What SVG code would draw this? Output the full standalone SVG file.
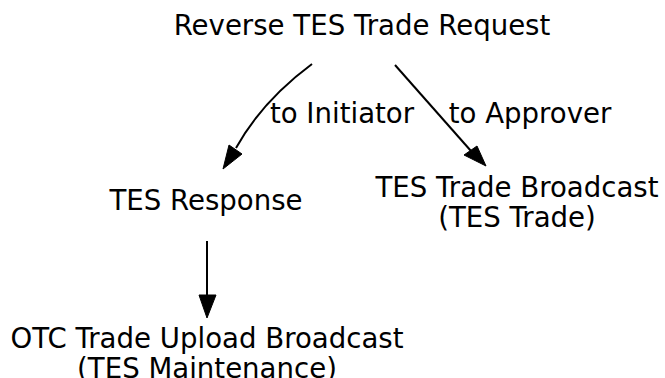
<svg xmlns="http://www.w3.org/2000/svg" width="665" height="378" viewBox="0 0 665 378">
<style>
text{font-family:"DejaVu Sans",sans-serif;font-size:27.6px;fill:#000;text-anchor:middle}
.e{fill:none;stroke:#000;stroke-width:2}
.h{fill:#000;stroke:#000;stroke-width:1}
</style>
<rect width="665" height="378" fill="#fff"/>
<g id="n_request"><text x="362" y="35">Reverse TES Trade Request</text></g>
<g id="n_response"><text x="206" y="210">TES Response</text></g>
<g id="n_broadcast"><text x="517" y="197">TES Trade Broadcast</text><text x="517" y="227">(TES Trade)</text></g>
<g id="n_otc"><text x="207" y="348">OTC Trade Upload Broadcast</text><text x="207" y="378">(TES Maintenance)</text></g>
<g id="edges">
<path class="e" d="M312,64 C285,84 256,112 236,148"/>
<polygon class="h" points="223,169 229,145 242,154"/>
<text x="342" y="123">to Initiator</text>
<path class="e" d="M395,65 L471,151"/>
<polygon class="h" points="486,166 464,155 477,146"/>
<text x="530" y="123">to Approver</text>
<path class="e" d="M207,241 L207,296"/>
<polygon class="h" points="207,318 199,295 216,295"/>
</g>
</svg>
